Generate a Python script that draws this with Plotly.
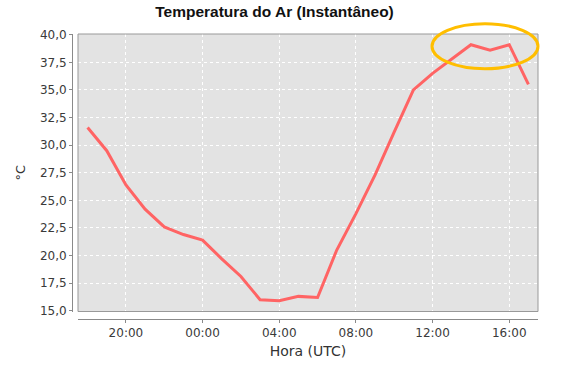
import plotly.graph_objects as go

# ---- data -------------------------------------------------------------
times = [
    "2023-01-01 18:00", "2023-01-01 19:00", "2023-01-01 20:00", "2023-01-01 21:00",
    "2023-01-01 22:00", "2023-01-01 23:00", "2023-01-02 00:00", "2023-01-02 01:00",
    "2023-01-02 02:00", "2023-01-02 03:00", "2023-01-02 04:00", "2023-01-02 05:00",
    "2023-01-02 06:00", "2023-01-02 07:00", "2023-01-02 08:00", "2023-01-02 09:00",
    "2023-01-02 10:00", "2023-01-02 11:00", "2023-01-02 12:00", "2023-01-02 13:00",
    "2023-01-02 14:00", "2023-01-02 15:00", "2023-01-02 16:00", "2023-01-02 17:00",
]
temperatura = [
    31.6, 29.5, 26.4, 24.2, 22.6, 21.9, 21.4, 19.7,
    18.1, 16.0, 15.9, 16.3, 16.2, 20.5, 23.8, 27.3,
    31.2, 35.0, 36.5, 37.8, 39.1, 38.6, 39.1, 35.5,
]
x_range = ["2023-01-01 17:30", "2023-01-02 17:30"]
x_tick0 = "2023-01-01 20:00"
y_range = [14.93, 40.07]

title_text = "Temperatura do Ar (Instantâneo)"
x_title = "Hora (UTC)"
y_title = "°C"

# ---- layout geometry (pixels) ------------------------------------------
W, H = 567, 370
L, R, T, B = 72, 29, 34, 51          # paper = axis lines
PW, PH = W - L - R, H - T - B
plot_left_px, plot_bottom_px = 78, 311.5


def px_x(p):
    return (p - L) / PW


def px_y(p):
    return (H - B - p) / PH


xd0 = px_x(plot_left_px)
yd0 = px_y(plot_bottom_px)

fig = go.Figure()
fig.add_trace(go.Scatter(
    x=times, y=temperatura, mode="lines",
    line=dict(color="#FF6464", width=3),
    hoverinfo="x+y", showlegend=False,
))

axis_grey = "#8A8A8A"
tick_font = dict(family="DejaVu Sans", size=12, color="#3A3A3A")

fig.update_layout(
    width=W, height=H,
    margin=dict(l=L, r=R, t=T, b=B, pad=0),
    paper_bgcolor="white",
    plot_bgcolor="#E3E3E3",
    separators=",.",
    title=dict(
        text=title_text,
        font=dict(family="Liberation Sans", size=15.5, color="#111111", weight="bold"),
        x=274.5 / W, xref="container", xanchor="center",
        y=1 - 12 / H, yref="container", yanchor="middle",
    ),
    xaxis=dict(
        type="date", range=x_range, domain=[xd0, 1],
        anchor="free", position=0,
        tick0=x_tick0, dtick=4 * 3600 * 1000, tickformat="%H:%M",
        ticks="outside", ticklen=3, tickcolor=axis_grey, tickwidth=1,
        tickfont=tick_font,
        showline=True, linecolor=axis_grey, linewidth=1,
        showgrid=True, gridcolor="white", gridwidth=1, griddash="dot",
        zeroline=False,
        title=dict(text=x_title, font=dict(family="DejaVu Sans", size=14, color="#333333"),
                   standoff=6),
    ),
    yaxis=dict(
        range=y_range, domain=[yd0, 1],
        anchor="free", position=0,
        tick0=15, dtick=2.5, tickformat=".1f",
        ticks="outside", ticklen=3, tickcolor=axis_grey, tickwidth=1,
        tickfont=tick_font,
        showline=True, linecolor=axis_grey, linewidth=1,
        showgrid=True, gridcolor="white", gridwidth=1, griddash="dot",
        zeroline=False,
        title=dict(text=y_title, font=dict(family="DejaVu Sans", size=13, color="#333333"),
                   standoff=10),
    ),
    shapes=[
        dict(type="rect", xref="paper", yref="paper",
             x0=xd0, x1=1, y0=yd0, y1=1,
             line=dict(color="#999999", width=1), fillcolor="rgba(0,0,0,0)",
             layer="above"),
        dict(type="circle", xref="paper", yref="paper",
             x0=px_x(432), x1=px_x(538), y0=px_y(68.7), y1=px_y(23.7),
             line=dict(color="#FFBE00", width=3), fillcolor="rgba(0,0,0,0)",
             layer="above"),
    ],
)

fig.write_html(
    "out.html",
    config={"displayModeBar": False},
    post_script="document.body.style.margin='0';document.body.style.overflow='hidden';",
)
